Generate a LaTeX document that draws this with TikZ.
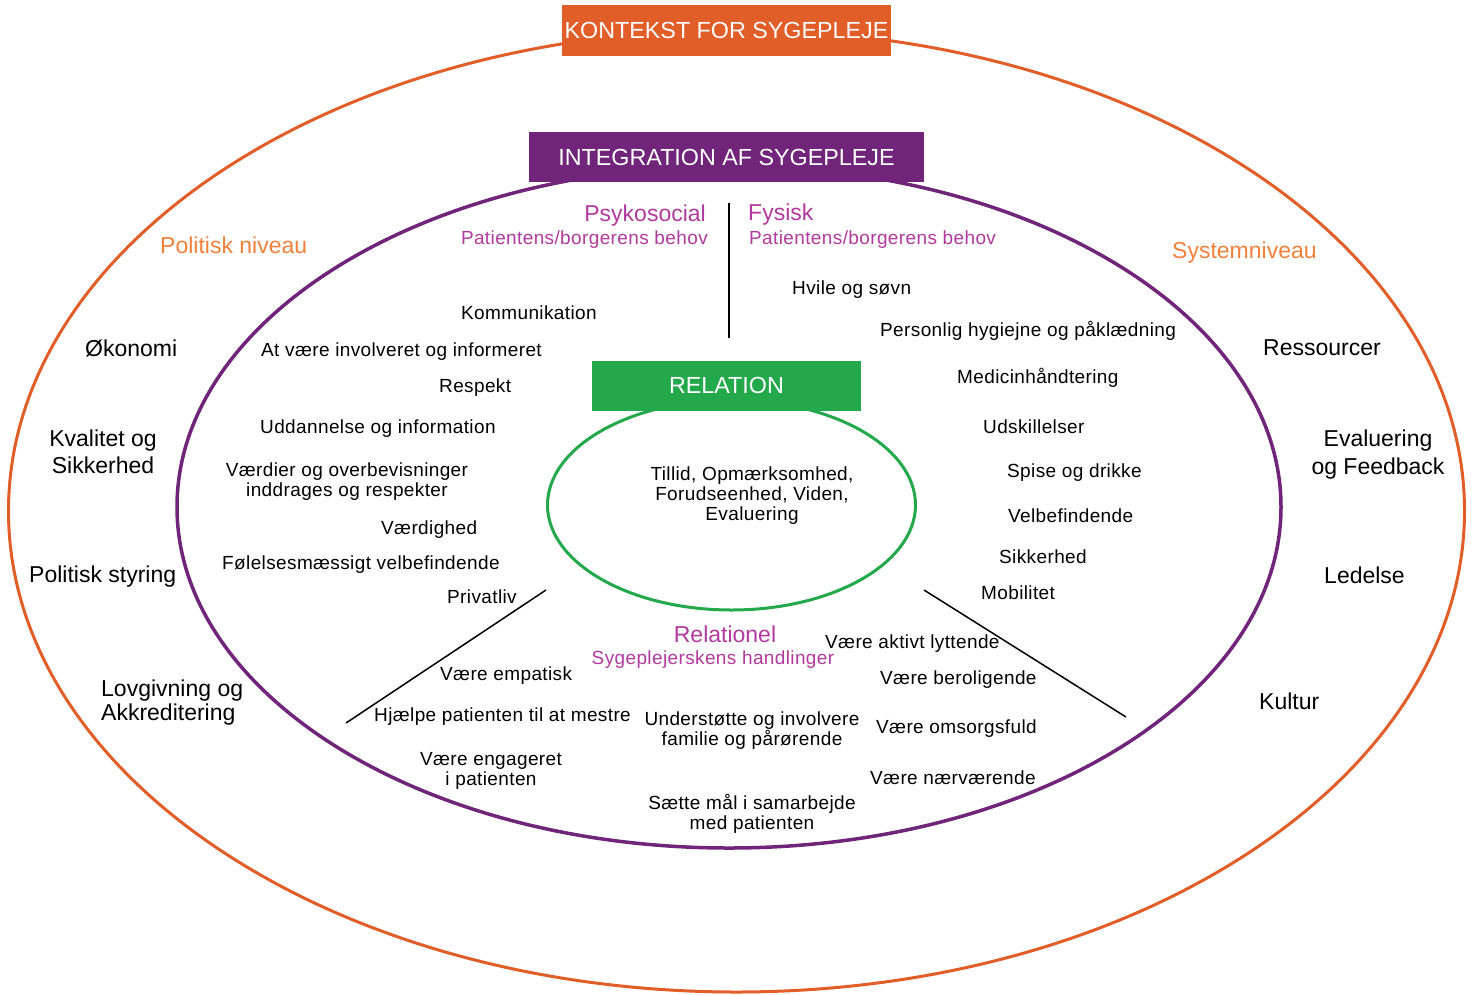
\documentclass[tikz,border=0pt]{standalone}
\usepackage{fontspec}
\setmainfont{Liberation Sans}
\newfontfamily\spacedsans[LetterSpace=2]{Liberation Sans}
\definecolor{ctxorange}{RGB}{226,94,40}
\definecolor{lvlorange}{RGB}{240,128,58}
\definecolor{intpurple}{RGB}{112,36,122}
\definecolor{subpink}{RGB}{178,58,158}
\definecolor{relgreen}{RGB}{36,168,76}
\tikzset{
  big/.style={font=\fontsize{23}{27}\selectfont, inner sep=0pt},
  small/.style={font=\spacedsans\fontsize{19}{20}\selectfont, inner sep=0pt},
  sub/.style={font=\spacedsans\fontsize{19}{20}\selectfont, inner sep=0pt, text=subpink},
  head/.style={font=\fontsize{23}{27}\selectfont, inner sep=0pt, text=subpink},
  lvl/.style={font=\fontsize{23}{27}\selectfont, inner sep=0pt, text=lvlorange},
  banner/.style={font=\fontsize{23.3}{27}\selectfont, text=white, inner sep=0pt},
  divider/.style={draw=black, line width=1.5pt}
}
\begin{document}
\begin{tikzpicture}[x=1pt,y=-1pt]
\useasboundingbox (0,0) rectangle (1472,994);
% ellipses
\draw[ctxorange, line width=3pt] (736.5,511) ellipse [x radius=728pt, y radius=481pt];
\draw[intpurple, line width=3.5pt] (729,507) ellipse [x radius=552pt, y radius=341pt];
\draw[relgreen, line width=3pt] (731.5,505) ellipse [x radius=184pt, y radius=105pt];
% banners
\node[banner, fill=ctxorange, minimum width=329pt, minimum height=51pt] (kontekst) at (726.5,30.5) {KONTEKST FOR SYGEPLEJE};
\node[banner, fill=intpurple, minimum width=395pt, minimum height=50pt] (integ) at (726.5,157) {INTEGRATION AF SYGEPLEJE};
\node[banner, fill=relgreen, minimum width=269pt, minimum height=50pt] (relation) at (726.5,385.5) {RELATION};
% dividers
\coordinate (vtop) at (729,203);
\coordinate (vbot) at (729,338);
\coordinate (ltop) at (546,590);
\coordinate (lbot) at (346,723);
\coordinate (rtop) at (924,590);
\coordinate (rbot) at (1126,717);
\draw[divider, line width=2pt] (vtop) -- (vbot);
\draw[divider] (ltop) -- (lbot);
\draw[divider] (rtop) -- (rbot);
% level labels
\node[lvl, anchor=west] (polniv) at (160,245) {Politisk niveau};
\node[lvl, anchor=west] (sysniv) at (1172,253) {Systemniveau};
% outer left
\node[big, anchor=west] (okon) at (85,348) {Økonomi};
\node[big, align=center] (kval) at (103,452) {Kvalitet og\\Sikkerhed};
\node[big, anchor=west] (polsty) at (29,577) {Politisk styring};
\node[big, align=left, anchor=west, font=\fontsize{23}{24}\selectfont] (lov) at (101,703) {Lovgivning og\\Akkreditering};
% outer right
\node[big, anchor=west] (ress) at (1263,348) {Ressourcer};
\node[big, align=center, font=\fontsize{23}{28}\selectfont] (eval) at (1378,455) {Evaluering\\og Feedback};
\node[big, anchor=west] (led) at (1324,575) {Ledelse};
\node[big, anchor=west] (kul) at (1259,701) {Kultur};
% headings
\node[head, anchor=east] (psyk) at (706,216) {Psykosocial};
\node[sub, anchor=east] (psyksub) at (708,240) {Patientens/borgerens behov};
\node[head, anchor=west] (fys) at (748,215) {Fysisk};
\node[sub, anchor=west] (fyssub) at (749,240) {Patientens/borgerens behov};
\node[head] (relnel) at (725,634) {Relationel};
\node[sub] (relsub) at (713,660) {Sygeplejerskens handlinger};
% psykosocial items
\node[small, anchor=west] (p1) at (461,313) {Kommunikation};
\node[small, anchor=west] (p2) at (261,352) {At være involveret og informeret};
\node[small, anchor=west] (p3) at (439,388) {Respekt};
\node[small, anchor=west] (p4) at (260,429) {Uddannelse og information};
\node[small, align=center] (p5) at (347,482) {Værdier og overbevisninger\\inddrages og respekter};
\node[small, anchor=west] (p6) at (381,530) {Værdighed};
\node[small, anchor=west] (p7) at (222,565) {Følelsesmæssigt velbefindende};
\node[small, anchor=west] (p8) at (447,597) {Privatliv};
% fysisk items
\node[small, anchor=west] (f1) at (792,290) {Hvile og søvn};
\node[small, anchor=west] (f2) at (880,331) {Personlig hygiejne og påklædning};
\node[small, anchor=west] (f3) at (957,378) {Medicinhåndtering};
\node[small, anchor=west] (f4) at (983,427) {Udskillelser};
\node[small, anchor=west] (f5) at (1007,473) {Spise og drikke};
\node[small, anchor=west] (f6) at (1008,516) {Velbefindende};
\node[small, anchor=west] (f7) at (999,557) {Sikkerhed};
\node[small, anchor=west] (f8) at (981,593) {Mobilitet};
% relation center
\node[small, align=center] (rc) at (752,496) {Tillid, Opmærksomhed,\\Forudseenhed, Viden,\\Evaluering};
% relationel items
\node[small, anchor=west] (r1) at (825,644) {Være aktivt lyttende};
\node[small, anchor=west] (r2) at (440,676) {Være empatisk};
\node[small, anchor=west] (r3) at (880,680) {Være beroligende};
\node[small, anchor=west] (r4) at (374,717) {Hjælpe patienten til at mestre};
\node[small, align=center] (r5) at (752,731) {Understøtte og involvere\\familie og pårørende};
\node[small, anchor=west] (r6) at (876,729) {Være omsorgsfuld};
\node[small, align=center] (r7) at (491,771) {Være engageret\\i patienten};
\node[small, anchor=west] (r8) at (870,778) {Være nærværende};
\node[small, align=center] (r9) at (752,814) {Sætte mål i samarbejde\\med patienten};
\end{tikzpicture}
\end{document}
